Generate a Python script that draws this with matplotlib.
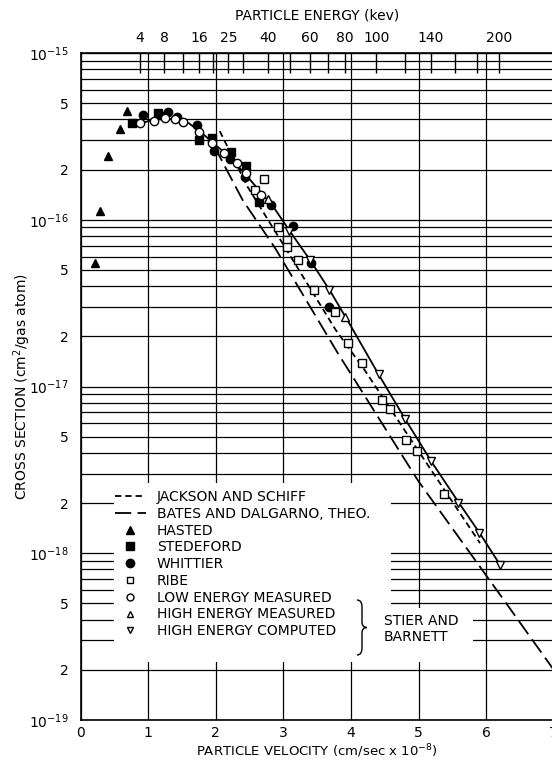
import numpy as np
import matplotlib
matplotlib.use('Agg')
import matplotlib.pyplot as plt
from matplotlib.lines import Line2D
from matplotlib.patches import Rectangle, PathPatch
from matplotlib.path import Path
from matplotlib.ticker import LogLocator, FuncFormatter, NullFormatter, FixedLocator

plt.rcParams['font.family'] = 'DejaVu Sans'
plt.rcParams['font.size'] = 10

# proton energy (kev) = KEV_PER_V2 * v^2, v in 1e8 cm/sec
KEV_PER_V2 = 5.22
energy_ticks = [4, 8, 12, 16, 20, 25, 30, 40, 50, 60, 70, 80, 100, 120, 140, 160, 180, 200]
energy_labels = [4, 8, 16, 25, 40, 60, 80, 100, 140, 200]
vel_ticks = [0, 1, 2, 3, 4, 5, 6, 7]

# curves
curve_v = [0.85, 1.0, 1.2, 1.4, 1.6, 1.8, 2.0, 2.2, 2.45, 2.85, 3.1, 3.4, 3.7, 4.0, 4.4, 4.8, 5.2, 5.6, 5.9, 6.2]
curve_s = [3.75e-16, 3.9e-16, 4.05e-16, 4.0e-16, 3.8e-16, 3.3e-16, 2.8e-16, 2.4e-16, 1.85e-16, 1.2e-16,
           8.5e-17, 5.7e-17, 3.7e-17, 2.3e-17, 1.2e-17, 6.4e-18, 3.5e-18, 2.0e-18, 1.33e-18, 8.6e-19]
js_v = [2.06, 2.47, 3.0, 3.77, 4.2, 5.0, 5.91]
js_s = [3.4e-16, 1.58e-16, 7.1e-17, 2.2e-17, 1.26e-17, 4.1e-18, 1.15e-18]
bd_v = [1.98, 2.4, 2.88, 3.8, 5.0, 6.24, 7.0]
bd_s = [2.75e-16, 1.31e-16, 6.75e-17, 1.6e-17, 2.7e-18, 5.4e-19, 2.0e-19]

# measurements
hasted_v = [0.69, 0.58, 0.41, 0.29, 0.22]
hasted_s = [4.5e-16, 3.5e-16, 2.4e-16, 1.13e-16, 5.5e-17]
stedeford_v = [0.76, 1.14, 1.76, 1.94, 2.23, 2.45, 2.64]
stedeford_s = [3.8e-16, 4.35e-16, 3.0e-16, 3.1e-16, 2.55e-16, 2.1e-16, 1.28e-16]
whittier_v = [0.93, 1.18, 1.29, 1.43, 1.72, 1.98, 2.21, 2.43, 2.82, 3.15, 3.41, 3.68]
whittier_s = [4.25e-16, 4.25e-16, 4.45e-16, 4.15e-16, 3.7e-16, 2.6e-16, 2.3e-16, 1.8e-16,
              1.22e-16, 9.2e-17, 5.5e-17, 3.0e-17]
ribe_v = [2.58, 2.72, 2.92, 3.06, 3.06, 3.22, 3.46, 3.77, 3.96, 4.17, 4.46, 4.58, 4.82, 4.98, 5.38]
ribe_s = [1.5e-16, 1.75e-16, 9.1e-17, 7.6e-17, 6.9e-17, 5.7e-17, 3.8e-17, 2.8e-17, 1.82e-17,
          1.38e-17, 8.3e-18, 7.3e-18, 4.8e-18, 4.1e-18, 2.26e-18]
low_v = [0.88, 1.08, 1.25, 1.40, 1.52, 1.76, 1.95, 2.13, 2.31, 2.45, 2.67]
low_s = [3.8e-16, 3.9e-16, 4.05e-16, 4.0e-16, 3.85e-16, 3.35e-16, 2.9e-16, 2.5e-16, 2.18e-16, 1.9e-16, 1.4e-16]
highm_v = [2.77, 3.92]
highm_s = [1.33e-16, 2.6e-17]
highc_v = [3.08, 3.40, 3.68, 4.41, 4.80, 5.19, 5.58, 5.89, 6.20]
highc_s = [8.6e-17, 5.7e-17, 3.8e-17, 1.19e-17, 6.35e-18, 3.55e-18, 2.0e-18, 1.32e-18, 8.5e-19]

W, H = 552, 765
fig = plt.figure(figsize=(W / 100, H / 100), dpi=100)
ax = fig.add_axes([80.5 / W, 45 / H, 473.2 / W, 667 / H])
ax.set_yscale('log')
ax.set_xlim(0, 7)
ax.set_ylim(1e-19, 1e-15)

lw = 1.3
ax.plot(curve_v, curve_s, '-', color='k', lw=lw)
ax.plot(js_v, js_s, color='k', lw=lw, dashes=(3.5, 2.2))
ax.plot(bd_v, bd_s, color='k', lw=lw, dashes=(9, 3.5))

mk = dict(ls='none', ms=6, mec='k', mew=1.0, zorder=3)
ax.plot(hasted_v, hasted_s, marker='^', mfc='k', **mk)
ax.plot(stedeford_v, stedeford_s, marker='s', mfc='k', **mk)
ax.plot(whittier_v, whittier_s, marker='o', mfc='k', **mk)
ax.plot(ribe_v, ribe_s, marker='s', mfc='white', **mk)
ax.plot(low_v, low_s, marker='o', mfc='white', **mk)
ax.plot(highm_v, highm_s, marker='^', mfc='white', **mk)
ax.plot(highc_v, highc_s, marker='v', mfc='white', **mk)

# grid
ax.set_axisbelow(True)
ax.xaxis.set_major_locator(FixedLocator(vel_ticks))
ax.yaxis.set_major_locator(LogLocator(base=10, subs=(1.0, 2.0, 5.0), numticks=50))
ax.yaxis.set_minor_locator(LogLocator(base=10, subs=(3., 4., 6., 7., 8., 9.), numticks=50))


def ylab(val, pos):
    e = int(np.floor(np.log10(val) + 1e-9))
    m = int(round(val / 10 ** e))
    if m == 1:
        return r'$10^{%d}$' % e
    return str(m)


ax.yaxis.set_major_formatter(FuncFormatter(ylab))
ax.yaxis.set_minor_formatter(NullFormatter())
ax.tick_params(which='both', length=0)
ax.tick_params(axis='y', pad=8.3, labelsize=10)
ax.tick_params(axis='x', pad=4.5, labelsize=10)
ax.grid(True, which='major', axis='x', color='k', lw=0.9)
ax.grid(True, which='both', axis='y', color='k', lw=0.9)
for sp in ax.spines.values():
    sp.set_linewidth(1.2)

# blank areas behind the legend
ax.add_patch(Rectangle((0.5, 2.23e-19), 4.1, 2.64e-18 - 2.23e-19,
                       facecolor='white', edgecolor='none', zorder=1))
ax.add_patch(Rectangle((4.6, 2.23e-19), 1.21, 4.7e-19 - 2.23e-19,
                       facecolor='white', edgecolor='none', zorder=1))

# energy scale on top
secax = ax.secondary_xaxis('top', functions=(lambda v: KEV_PER_V2 * np.asarray(v) ** 2,
                                             lambda e: np.sqrt(np.clip(e, 0, None) / KEV_PER_V2)))
secax.set_xticks(energy_ticks, labels=[str(e) if e in energy_labels else '' for e in energy_ticks])
secax.tick_params(direction='in', length=14.4, width=1, pad=6, labelsize=10)
secax.set_xlabel('PARTICLE ENERGY (kev)', labelpad=8)

ax.set_xlabel(r'PARTICLE VELOCITY (cm/sec x $10^{-8}$)', fontsize=9.5)
ax.set_ylabel(r'CROSS SECTION (cm$^2$/gas atom)')
ax.yaxis.set_label_coords(-0.100, 0.5)
ax.xaxis.set_label_coords(0.5, -0.034)

handles = [
    Line2D([], [], color='k', lw=lw, dashes=(3.5, 2.2)),
    Line2D([], [], color='k', lw=lw, dashes=(9, 3.5)),
    Line2D([], [], ls='none', marker='^', mfc='k', mec='k', ms=6),
    Line2D([], [], ls='none', marker='s', mfc='k', mec='k', ms=6),
    Line2D([], [], ls='none', marker='o', mfc='k', mec='k', ms=6),
    Line2D([], [], ls='none', marker='s', mfc='white', mec='k', ms=5),
    Line2D([], [], ls='none', marker='o', mfc='white', mec='k', ms=5),
    Line2D([], [], ls='none', marker='^', mfc='white', mec='k', ms=5),
    Line2D([], [], ls='none', marker='v', mfc='white', mec='k', ms=5),
]
labels = ['JACKSON AND SCHIFF', 'BATES AND DALGARNO, THEO.', 'HASTED', 'STEDEFORD',
          'WHITTIER', 'RIBE', 'LOW ENERGY MEASURED', 'HIGH ENERGY MEASURED',
          'HIGH ENERGY COMPUTED']
ax.legend(handles, labels, loc='upper left', bbox_to_anchor=(115 / W, 1 - 490 / H),
          bbox_transform=fig.transFigure, frameon=False, handlelength=2.2,
          handletextpad=0.8, labelspacing=0.2, borderpad=0, borderaxespad=0,
          fontsize=10, numpoints=1)


def px(x, y):
    return (x / W, 1 - y / H)


brace = Path([px(357, 600), px(362, 600), px(362, 607), px(362, 622),
              px(362, 627.5), px(367, 627.5), px(362, 627.5), px(362, 633),
              px(362, 648), px(362, 655), px(357, 655)],
             [Path.MOVETO, Path.CURVE3, Path.CURVE3, Path.LINETO,
              Path.CURVE3, Path.CURVE3, Path.CURVE3, Path.CURVE3,
              Path.LINETO, Path.CURVE3, Path.CURVE3])
fig.add_artist(PathPatch(brace, facecolor='none', edgecolor='k', lw=1.0,
                         transform=fig.transFigure))
fig.text(384 / W, 1 - 629 / H, 'STIER AND\nBARNETT', ha='left', va='center',
         linespacing=1.25, fontsize=10)

fig.savefig('out.png', dpi=100)
